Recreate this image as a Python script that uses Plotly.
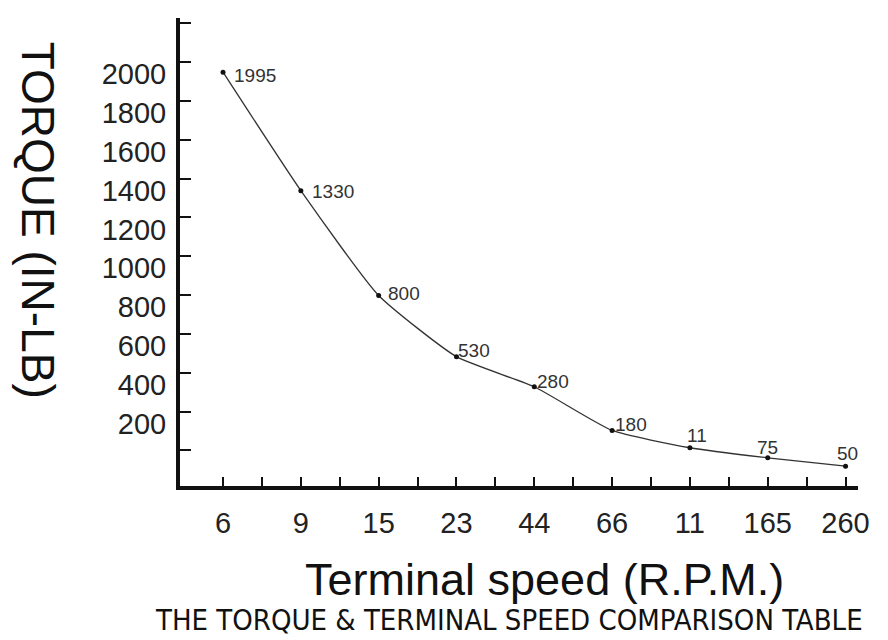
import plotly.graph_objects as go

# ---- data ----
speed_labels = ["6", "9", "15", "23", "44", "66", "11", "165", "260"]
torque_plotted = [2010, 1400, 860, 545, 390, 165, 76, 24, -19]
torque_labels = ["1995", "1330", "800", "530", "280", "180", "11", "75", "50"]
y_tick_values = [200, 400, 600, 800, 1000, 1200, 1400, 1600, 1800, 2000]

# ---- styles / geometry ----
label_xanchor = ["left"] * 6 + ["center"] * 3
label_xshift = [10, 10, 8, 1, 2, 2, 7, 0, 2]
label_yshift = [-3, -1, 2, 6, 5, 6, 12, 10, 13]

OFF = 8  # browser body margin
W, H = 888 - OFF, 640 - OFF
L, R, T, B = 172, 30, 10, 153.5
PW, PH = W - L - R, H - T - B

def px_x(p):  # p in window pixels
    return (p - OFF - L) / PW

def px_y(p):
    return (H - B - (p - OFF)) / PH

x_idx = list(range(len(speed_labels)))
x_tickvals = [i * 0.5 for i in range(2 * len(speed_labels) - 1)]
x_ticktext = [speed_labels[int(v)] if v == int(v) else "" for v in x_tickvals]
y_minor = [62 + 200 * k for k in range(12)]

FONT = "Liberation Sans, Arial, Helvetica, sans-serif"

fig = go.Figure()
fig.add_trace(go.Scatter(
    x=x_idx, y=torque_plotted,
    mode="lines+markers",
    line=dict(color="#333333", width=1.3, shape="spline", smoothing=0.5),
    marker=dict(color="#111111", size=5),
    cliponaxis=False,
    hoverinfo="skip",
))

annotations = []
for xi, yv, lab, xa, dx, dy in zip(x_idx, torque_plotted, torque_labels,
                                   label_xanchor, label_xshift, label_yshift):
    annotations.append(dict(
        x=xi, y=yv, xref="x", yref="y", text=lab, showarrow=False,
        xanchor=xa, yanchor="middle", xshift=dx, yshift=dy, borderpad=0,
        font=dict(family=FONT, size=19, color="#333333"),
    ))

annotations += [
    dict(text="TORQUE (IN-LB)", textangle=90, showarrow=False,
         xref="paper", yref="paper", x=px_x(38), y=px_y(220),
         xanchor="center", yanchor="middle",
         font=dict(family=FONT, size=46, color="#111111")),
    dict(text="Terminal speed (R.P.M.)", showarrow=False,
         xref="paper", yref="paper", x=px_x(544), y=px_y(580),
         xanchor="center", yanchor="middle",
         font=dict(family=FONT, size=45, color="#111111")),
    dict(text="THE TORQUE &amp; TERMINAL SPEED COMPARISON TABLE", showarrow=False,
         xref="paper", yref="paper", x=px_x(509), y=px_y(621),
         xanchor="center", yanchor="middle", borderpad=0,
         font=dict(family="Liberation Sans Narrow, DejaVu Sans Condensed, Liberation Sans, Arial",
                   size=29, color="#111111")),
]

fig.update_layout(
    width=W, height=H,
    margin=dict(l=L, r=R, t=T, b=B, pad=0),
    paper_bgcolor="white", plot_bgcolor="white",
    showlegend=False,
    font=dict(family=FONT, color="#111111"),
    xaxis=dict(
        range=[-0.553, 8.16],
        tickmode="array", tickvals=x_tickvals, ticktext=x_ticktext,
        ticks="inside", ticklen=9, tickwidth=2, tickcolor="#111111",
        tickfont=dict(size=29, color="#222222"),
        showline=True, linewidth=4, linecolor="#111111",
        showgrid=False, zeroline=False,
        ticklabelstandoff=8,
    ),
    yaxis=dict(
        range=[-121, 2289],
        tickmode="array", tickvals=y_tick_values,
        ticks="",
        tickfont=dict(size=29, color="#222222"),
        showline=True, linewidth=4, linecolor="#111111",
        showgrid=False, zeroline=False,
        ticklabelstandoff=4,
        minor=dict(tickmode="array", tickvals=y_minor, ticks="inside",
                   ticklen=11, tickwidth=2, tickcolor="#111111", showgrid=False),
    ),
    annotations=annotations,
)

fig.write_html("out.html")
